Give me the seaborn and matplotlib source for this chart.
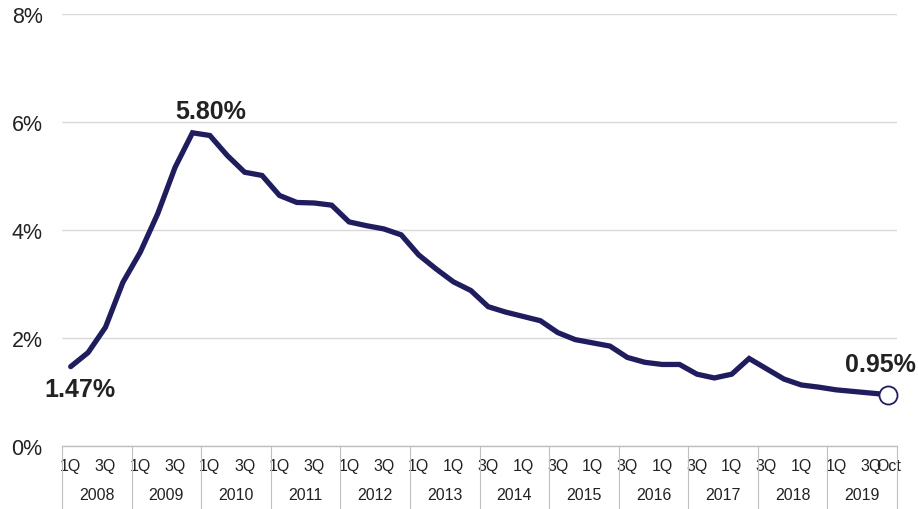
import matplotlib
matplotlib.use("Agg")

import matplotlib.pyplot as plt
import numpy as np
import pandas as pd
import seaborn as sns

# quarterly rate (%), 1Q 2008 ... 3Q 2019, then Oct 2019
rate = [1.47, 1.73, 2.20, 3.03, 3.59, 4.30, 5.16, 5.80,
        5.75, 5.38, 5.07, 5.01, 4.64, 4.51, 4.50, 4.46,
        4.15, 4.08, 4.02, 3.91, 3.54, 3.28, 3.04, 2.88,
        2.58, 2.48, 2.40, 2.32, 2.10, 1.97, 1.91, 1.85,
        1.64, 1.55, 1.51, 1.51, 1.33, 1.26, 1.33, 1.62,
        1.43, 1.24, 1.13, 1.09, 1.04, 1.01, 0.98, 0.95]

years = ['2008', '2009', '2010', '2011', '2012', '2013',
         '2014', '2015', '2016', '2017', '2018', '2019']

# labels as they appear under the axis (every second slot, plus Oct)
quarter_labels = ['1Q', '', '3Q', '', '1Q', '', '3Q', '',
                  '1Q', '', '3Q', '', '1Q', '', '3Q', '',
                  '1Q', '', '3Q', '', '1Q', '', '1Q', '',
                  '3Q', '', '1Q', '', '3Q', '', '1Q', '',
                  '3Q', '', '1Q', '', '3Q', '', '1Q', '',
                  '3Q', '', '1Q', '', '1Q', '', '3Q', 'Oct']

y_ticks = [0, 2, 4, 6, 8]
y_tick_labels = ['0%', '2%', '4%', '6%', '8%']

# (index, text, offset in points)
callouts = [(0, '1.47%', (7, -16)),
            (7, '5.80%', (13, 16)),
            (47, '0.95%', (-6, 22))]

LINE = '#1f1d5e'
TEXT = '#222222'
GRID = '#d9d9d9'
AXIS = '#bfbfbf'


def main() -> None:
    sns.set_style('white')
    plt.rcParams['font.family'] = ['Liberation Sans', 'DejaVu Sans']

    df = pd.DataFrame({'idx': np.arange(len(rate)), 'rate': rate})

    fig = plt.figure(figsize=(9.18, 5.10), dpi=100)
    ax = fig.add_axes([62 / 918, 1 - 447 / 510, 835 / 918, 432 / 510])

    sns.lineplot(data=df, x='idx', y='rate', ax=ax, color=LINE,
                 linewidth=3.8, solid_joinstyle='miter', zorder=3)
    # open circle on the latest point
    ax.plot(df['idx'].iloc[-1], df['rate'].iloc[-1], 'o', ms=13,
            mfc='white', mec=LINE, mew=1.3, zorder=4, clip_on=False)

    n = len(rate)
    ax.set_xlim(-0.5, n - 0.5)
    ax.set_ylim(y_ticks[0], y_ticks[-1])

    ax.set_yticks(y_ticks)
    ax.set_yticklabels(y_tick_labels)
    ax.yaxis.grid(True, color=GRID, linewidth=1)
    ax.tick_params(axis='y', length=0, pad=14, labelsize=15.5,
                   labelcolor=TEXT)

    ax.set_xticks(np.arange(n))
    ax.set_xticklabels(quarter_labels)
    ax.set_xticks(np.arange(n + 1) - 0.5, minor=True)
    ax.tick_params(axis='x', which='major', length=0, pad=9,
                   labelsize=11.5, labelcolor=TEXT)
    ax.tick_params(axis='x', which='minor', length=9, width=0.8,
                   color=AXIS, direction='out')

    for s in ['left', 'right', 'top']:
        ax.spines[s].set_visible(False)
    ax.spines['bottom'].set_color(AXIS)
    ax.spines['bottom'].set_linewidth(1)

    # year separators and year labels below the quarters
    trans = ax.get_xaxis_transform()
    for k in range(len(years) + 1):
        ax.plot([4 * k - 0.5, 4 * k - 0.5], [0, -0.15], color=AXIS,
                linewidth=0.8, transform=trans, clip_on=False)
    for k, yr in enumerate(years):
        ax.text(4 * k + 1.5, -0.113, yr, transform=trans, ha='center',
                va='center', fontsize=11.5, color=TEXT)

    for i, txt, off in callouts:
        ax.annotate(txt, (i, rate[i]), xytext=off,
                    textcoords='offset points', ha='center', va='center',
                    fontsize=18, fontweight='bold', color=TEXT)

    ax.set_xlabel('')
    ax.set_ylabel('')
    fig.savefig('out.png', dpi=100)


if __name__ == '__main__':
    main()
